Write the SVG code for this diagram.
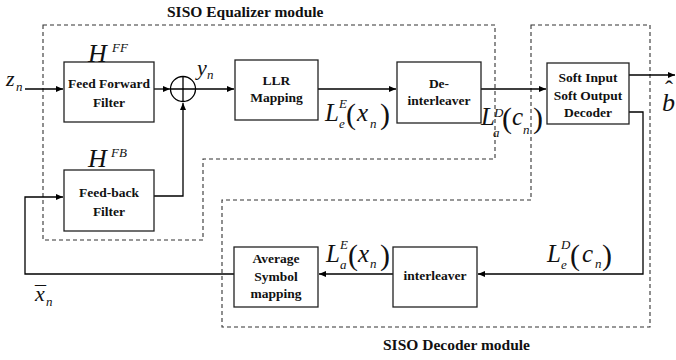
<svg xmlns="http://www.w3.org/2000/svg" width="676" height="360" viewBox="0 0 676 360">
<style>
.box{fill:#fff;stroke:#222;stroke-width:1.3}
.mod{fill:none;stroke:#333;stroke-width:1.1;stroke-dasharray:4 3}
.ln{fill:none;stroke:#000;stroke-width:1.3}
.lbl{font-weight:bold;font-size:13.5px;text-anchor:middle;fill:#111}
.ttl{font-weight:bold;font-size:15.5px;fill:#111}
.m{font-style:italic;fill:#111}
.big{font-size:25px}
.sm{font-size:13px}
.par{font-style:normal;font-size:30px}
</style>
<defs>
<marker id="ah" markerUnits="userSpaceOnUse" markerWidth="8" markerHeight="6" refX="7" refY="3" orient="auto">
<path d="M0,0 L7,3 L0,6 z" fill="#000"/>
</marker>
</defs>

<g id="modules" font-family="Liberation Serif, Times New Roman, serif">
<path class="mod" d="M43,25 H495 V159 H203 V240 H43 Z"/>
<path class="mod" d="M531,25 H650 V327 H222 V200 H531 Z"/>
<text class="ttl" x="167" y="17">SISO Equalizer module</text>
<text class="ttl" x="383" y="350">SISO Decoder module</text>
</g>

<g id="connectors">
<path class="ln" d="M25,89 H63" marker-end="url(#ah)"/>
<path class="ln" d="M154,89 H170" marker-end="url(#ah)"/>
<path class="ln" d="M196,89 H234" marker-end="url(#ah)"/>
<path class="ln" d="M154,196 H183 V103" marker-end="url(#ah)"/>
<path class="ln" d="M318,89 H396" marker-end="url(#ah)"/>
<path class="ln" d="M481,89 H546" marker-end="url(#ah)"/>
<path class="ln" d="M629,75 H675" marker-end="url(#ah)"/>
<path class="ln" d="M629,112 H643 V274 H478" marker-end="url(#ah)"/>
<path class="ln" d="M393,274 H319" marker-end="url(#ah)"/>
<path class="ln" d="M234,274 H25 V197 H63" marker-end="url(#ah)"/>
</g>

<g font-family="Liberation Serif, Times New Roman, serif">
<g id="ff">
<rect class="box" x="64" y="62" width="90" height="60"/>
<text class="lbl" x="109" y="88">Feed Forward</text>
<text class="lbl" x="109" y="107">Filter</text>
</g>
<g id="fb">
<rect class="box" x="64" y="170" width="90" height="61"/>
<text class="lbl" x="109" y="197">Feed-back</text>
<text class="lbl" x="109" y="216">Filter</text>
</g>
<g id="sum">
<circle cx="183" cy="89" r="12.5" fill="#fff" stroke="#000" stroke-width="1.3"/>
<path class="ln" d="M170.5,89 H195.5 M183,76.5 V101.5"/>
</g>
<g id="llr">
<rect class="box" x="235" y="60" width="83" height="60"/>
<text class="lbl" x="276.5" y="85">LLR</text>
<text class="lbl" x="276.5" y="102">Mapping</text>
</g>
<g id="deint">
<rect class="box" x="397" y="62" width="84" height="61"/>
<text class="lbl" x="439" y="88">De-</text>
<text class="lbl" x="439" y="105">interleaver</text>
</g>
<g id="dec">
<rect class="box" x="547" y="63" width="82" height="61"/>
<text class="lbl" x="588" y="82">Soft Input</text>
<text class="lbl" x="588" y="100">Soft Output</text>
<text class="lbl" x="588" y="117">Decoder</text>
</g>
<g id="avg">
<rect class="box" x="234" y="247" width="84" height="60"/>
<text class="lbl" x="276" y="263">Average</text>
<text class="lbl" x="276" y="281">Symbol</text>
<text class="lbl" x="276" y="298">mapping</text>
</g>
<g id="il">
<rect class="box" x="393" y="247" width="84" height="60"/>
<text class="lbl" x="435" y="280">interleaver</text>
</g>

<g id="math">
<text class="m"><tspan x="6" y="86" font-size="22">z</tspan><tspan class="sm" x="16" y="91">n</tspan></text>
<text class="m"><tspan x="88" y="62" font-size="26">H</tspan><tspan class="sm" x="112" y="52">FF</tspan></text>
<text class="m"><tspan x="88" y="167" font-size="26">H</tspan><tspan class="sm" x="111" y="157">FB</tspan></text>
<text class="m"><tspan x="197" y="75" font-size="22">y</tspan><tspan class="sm" x="207" y="79">n</tspan></text>
<text class="m"><tspan class="big" x="325" y="121">L</tspan><tspan class="sm" x="339" y="108">E</tspan><tspan class="sm" x="339" y="128">e</tspan><tspan class="par" x="346" y="124">(</tspan><tspan class="big" x="357" y="121">x</tspan><tspan class="sm" x="370" y="128">n</tspan><tspan class="par" x="380" y="124">)</tspan></text>
<text class="m"><tspan class="big" x="481" y="125">L</tspan><tspan class="sm" x="494" y="117">D</tspan><tspan class="sm" x="493" y="137">a</tspan><tspan class="par" x="502" y="128">(</tspan><tspan class="big" x="512" y="125">c</tspan><tspan class="sm" x="523" y="134">n</tspan><tspan class="par" x="533" y="128">)</tspan></text>
<text class="m"><tspan class="big" x="326" y="262">L</tspan><tspan class="sm" x="340" y="249">E</tspan><tspan class="sm" x="340" y="269">a</tspan><tspan class="par" x="348" y="265">(</tspan><tspan class="big" x="358" y="262">x</tspan><tspan class="sm" x="370" y="268">n</tspan><tspan class="par" x="380" y="265">)</tspan></text>
<text class="m"><tspan class="big" x="547" y="262">L</tspan><tspan class="sm" x="561" y="249">D</tspan><tspan class="sm" x="561" y="269">e</tspan><tspan class="par" x="570" y="265">(</tspan><tspan class="big" x="582" y="262">c</tspan><tspan class="sm" x="595" y="268">n</tspan><tspan class="par" x="602" y="265">)</tspan></text>
<text class="m"><tspan x="662" y="111" font-size="26">b</tspan><tspan x="665" y="97" font-size="24" font-style="normal">ˆ</tspan></text>
<text class="m"><tspan x="35" y="301" font-size="22">x</tspan><tspan x="35" y="301" font-size="22" font-style="normal">¯</tspan><tspan class="sm" x="46" y="306">n</tspan></text>
</g>
</g>
</svg>
